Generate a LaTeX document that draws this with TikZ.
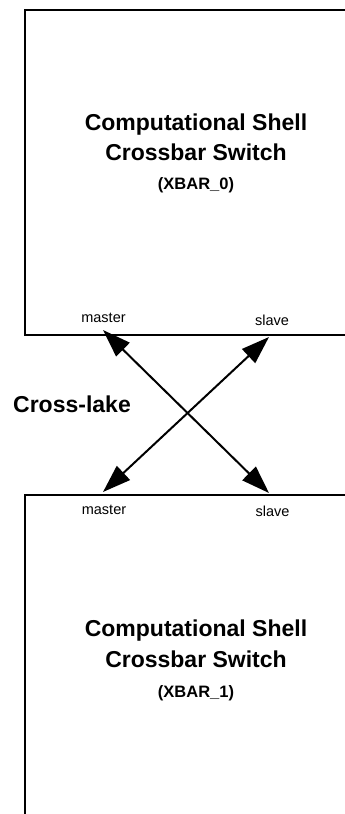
\documentclass[tikz,border=0pt]{standalone}
\usepackage{fontspec}
\setmainfont{Liberation Sans}
\usetikzlibrary{arrows.meta}
\begin{document}
\begin{tikzpicture}[x=1pt,y=-1pt,
  frame/.style={line width=2pt,line join=miter},
  title/.style={anchor=base,inner sep=0pt,font=\fontsize{23}{25}\selectfont\bfseries},
  tag/.style={anchor=base,inner sep=0pt,font=\fontsize{16.5}{18}\selectfont\bfseries},
  port/.style={anchor=base,inner sep=0pt,font=\fontsize{14.5}{16}\selectfont},
  link/.style={line width=2pt,{Triangle[length=28pt,width=19pt]}-{Triangle[length=28pt,width=19pt]}}]
  \useasboundingbox (0,0) rectangle (345,814);
  \clip (0,0) rectangle (345,814);

  % upper switch (open to the right)
  \draw[frame] (360,10) -- (25,10) -- (25,335) -- (360,335);
  \node[title] (t0a) at (196,130) {Computational Shell};
  \node[title] (t0b) at (196,160) {Crossbar Switch};
  \node[tag]   (t0c) at (196,189) {(XBAR\_0)};
  \node[port]  (pm0) at (103.5,322) {master};
  \node[port]  (ps0) at (272,325.7) {slave};

  % lower switch (open to the right and bottom)
  \draw[frame] (360,495) -- (25,495) -- (25,830);
  \node[title] (t1a) at (196,636) {Computational Shell};
  \node[title] (t1b) at (196,667) {Crossbar Switch};
  \node[tag]   (t1c) at (196,697) {(XBAR\_1)};
  \node[port]  (pm1) at (104,514.3) {master};
  \node[port]  (ps1) at (272.5,516.7) {slave};

  \node[title,anchor=center] (lake) at (72,404) {Cross-lake};

  % port attachment points
  \coordinate (m0) at (103,330);
  \coordinate (s0) at (269,337);
  \coordinate (m1) at (103,492);
  \coordinate (s1) at (269,493);

  \draw[link] (m0) -- (s1);
  \draw[link] (s0) -- (m1);
\end{tikzpicture}
\end{document}
